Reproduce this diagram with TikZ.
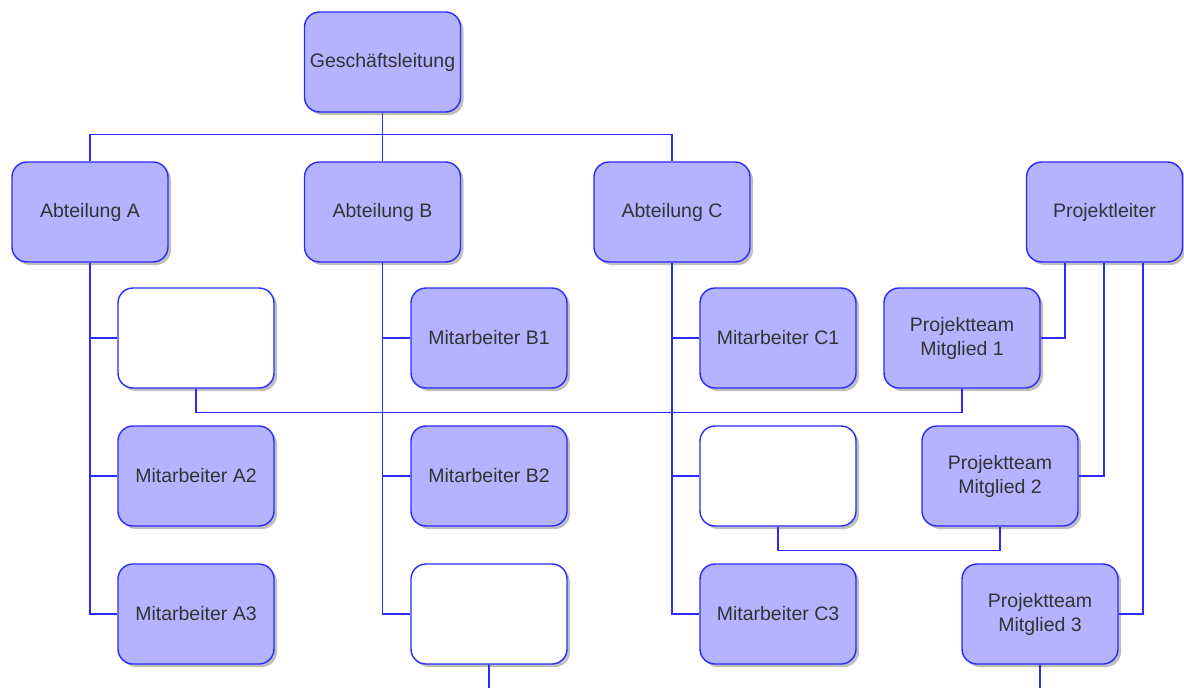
\documentclass[tikz,border=0pt]{standalone}
\usepackage{fontspec}
\setmainfont{Liberation Sans}
\usetikzlibrary{shadows}
\definecolor{boxfill}{HTML}{B3B3FF}
\definecolor{boxline}{HTML}{2A2AFF}
\definecolor{wire}{HTML}{2A2AFF}
\definecolor{label}{HTML}{333333}
\tikzset{
  unit/.style={rectangle, rounded corners=15pt, draw=boxline, line width=1.4pt,
    minimum width=156pt, minimum height=100pt, inner sep=0pt, align=center,
    text=label, font=\fontsize{19.5}{24}\selectfont,
    drop shadow={shadow xshift=3pt, shadow yshift=-3pt, fill=black, opacity=0.25}},
  filled/.style={unit, fill=boxfill},
  blank/.style={unit, fill=white},
  wire/.style={draw=wire, line width=1.2pt}
}
\begin{document}
\begin{tikzpicture}[x=1pt, y=-1pt]
\useasboundingbox (0,0) rectangle (1184,688);

% top management
\node[filled] (G) at (382.5,62) {Geschäftsleitung};

% departments and project lead
\node[filled] (A)  at (90,212)    {Abteilung A};
\node[filled] (B)  at (382.5,212) {Abteilung B};
\node[filled] (C)  at (672,212)   {Abteilung C};
\node[filled] (PL) at (1104.5,212) {Projektleiter};

% staff row 1
\node[blank]  (eA)  at (196,338) {};
\node[filled] (B1)  at (489,338) {Mitarbeiter B1};
\node[filled] (C1)  at (778,338) {Mitarbeiter C1};
\node[filled] (PT1) at (962,338) {Projektteam\\Mitglied 1};

% staff row 2
\node[filled] (A2)  at (196,476)  {Mitarbeiter A2};
\node[filled] (B2)  at (489,476)  {Mitarbeiter B2};
\node[blank]  (eC)  at (778,476)  {};
\node[filled] (PT2) at (1000,476) {Projektteam\\Mitglied 2};

% staff row 3
\node[filled] (A3)  at (196,614)  {Mitarbeiter A3};
\node[blank]  (eB)  at (489,614)  {};
\node[filled] (C3)  at (778,614)  {Mitarbeiter C3};
\node[filled] (PT3) at (1040,614) {Projektteam\\Mitglied 3};

% loose ends at the lower border
\coordinate (endB)  at (489,688);
\coordinate (endPT) at (1040,688);

% management to departments
\draw[wire] (G.south) -- (B.north);
\draw[wire] (A.north) -- ++(0,-27) -| (C.north);

% department spines
\draw[wire] (A.south) |- (A3.west);
\draw[wire] (A.south |- eA.west) -- (eA.west);
\draw[wire] (A.south |- A2.west) -- (A2.west);
\draw[wire] (B.south) |- (eB.west);
\draw[wire] (B.south |- B1.west) -- (B1.west);
\draw[wire] (B.south |- B2.west) -- (B2.west);
\draw[wire] (C.south) |- (C3.west);
\draw[wire] (C.south |- C1.west) -- (C1.west);
\draw[wire] (C.south |- eC.west) -- (eC.west);

% links between staff and project team
\draw[wire] (eA.south) -- ++(0,24) -| (PT1.south);
\draw[wire] (eC.south) -- ++(0,24) -| (PT2.south);
\draw[wire] (eB.south) -- (endB);
\draw[wire] (PT3.south) -- (endPT);

% project lead to team members
\draw[wire] ([xshift=-39.5pt]PL.south) |- (PT1.east);
\draw[wire] ([xshift=-0.5pt]PL.south) |- (PT2.east);
\draw[wire] ([xshift=38.5pt]PL.south) |- (PT3.east);
\end{tikzpicture}
\end{document}
